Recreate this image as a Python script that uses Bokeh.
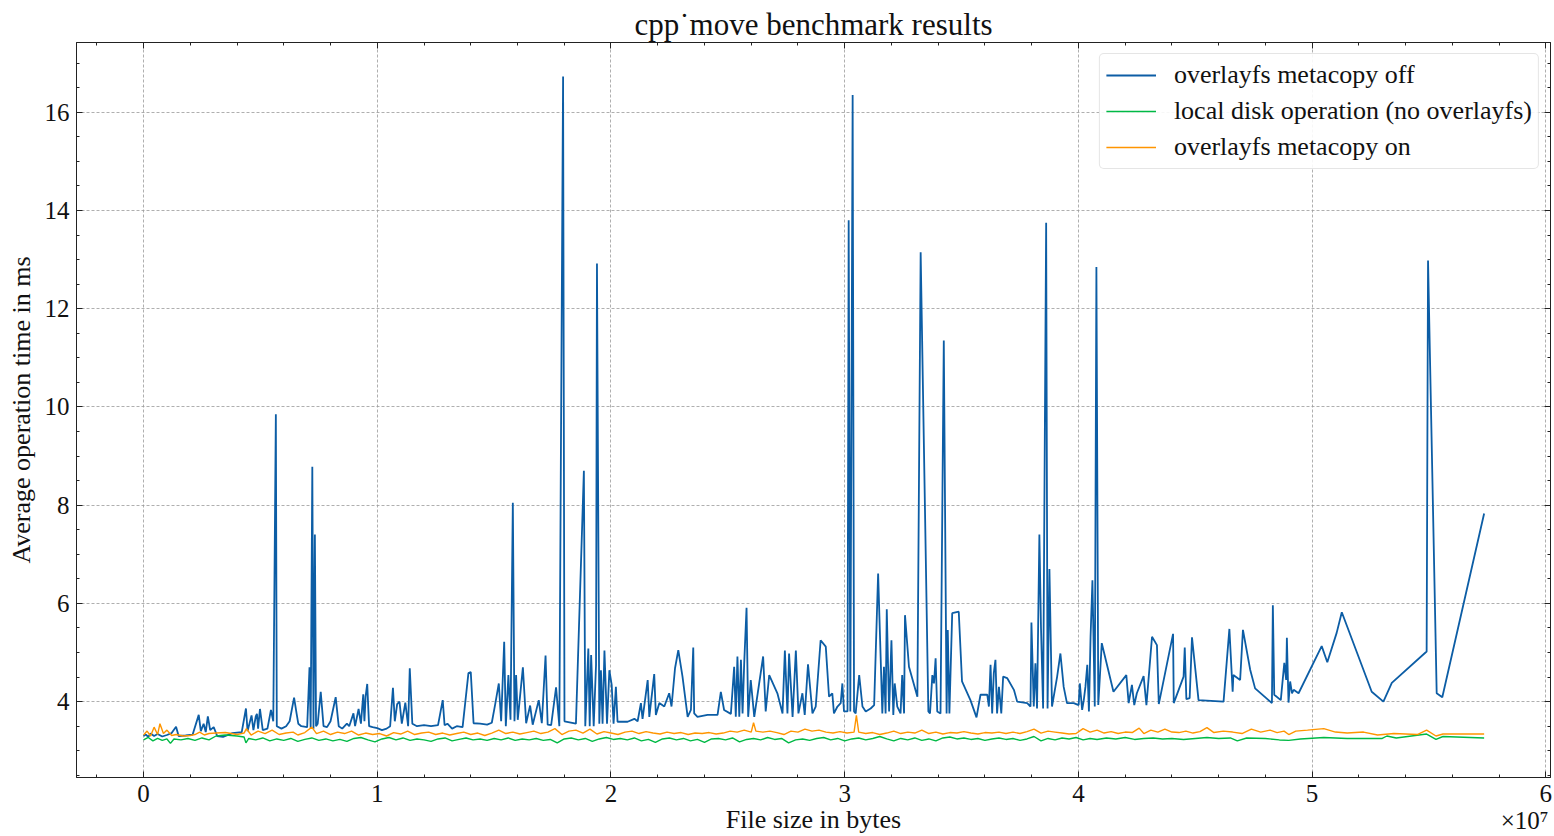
from bokeh.plotting import figure
from bokeh.models import (Range1d, SingleIntervalTicker, LinearAxis, Title, Legend, LegendItem,
                          CustomJSTickFormatter)
from bokeh.embed import file_html
from bokeh.resources import INLINE

# File size in units of 1e7 bytes, average operation time in ms
off_x = [0.000, 0.010, 0.020, 0.030, 0.045, 0.060, 0.080, 0.100, 0.120, 0.139, 0.150, 0.180, 0.210, 0.236, 0.245,
         0.257, 0.266, 0.275, 0.285, 0.300, 0.315, 0.340, 0.380, 0.420, 0.438, 0.445, 0.462, 0.470, 0.480, 0.485,
         0.490, 0.498, 0.510, 0.530, 0.545, 0.555, 0.566, 0.570, 0.590, 0.610, 0.625, 0.644, 0.655, 0.662, 0.675,
         0.700, 0.710, 0.715, 0.722, 0.727, 0.733, 0.738, 0.745, 0.758, 0.770, 0.785, 0.800, 0.822, 0.835, 0.850,
         0.870, 0.880, 0.898, 0.905, 0.920, 0.930, 0.940, 0.945, 0.950, 0.957, 0.965, 0.980, 1.000, 1.020, 1.040,
         1.055, 1.067, 1.075, 1.085, 1.095, 1.105, 1.120, 1.132, 1.139, 1.150, 1.170, 1.200, 1.230, 1.260, 1.280,
         1.288, 1.300, 1.320, 1.340, 1.365, 1.390, 1.400, 1.412, 1.440, 1.470, 1.490, 1.505, 1.520, 1.530, 1.543,
         1.550, 1.561, 1.570, 1.580, 1.587, 1.594, 1.601, 1.623, 1.637, 1.654, 1.665, 1.691, 1.704, 1.720, 1.729,
         1.744, 1.765, 1.779, 1.795, 1.801, 1.850, 1.884, 1.890, 1.903, 1.909, 1.915, 1.926, 1.936, 1.940, 1.950,
         1.957, 1.964, 1.972, 1.983, 1.993, 2.003, 2.011, 2.021, 2.028, 2.071, 2.100, 2.114, 2.128, 2.135, 2.157,
         2.164, 2.178, 2.185, 2.192, 2.207, 2.228, 2.249, 2.259, 2.274, 2.288, 2.306, 2.328, 2.342, 2.352, 2.356,
         2.370, 2.413, 2.456, 2.470, 2.484, 2.513, 2.527, 2.534, 2.541, 2.549, 2.556, 2.563, 2.570, 2.580, 2.587,
         2.598, 2.613, 2.651, 2.662, 2.677, 2.712, 2.734, 2.744, 2.755, 2.762, 2.777, 2.791, 2.802, 2.819, 2.829,
         2.843, 2.862, 2.876, 2.897, 2.919, 2.933, 2.947, 2.954, 2.969, 2.983, 2.990, 2.997, 3.012, 3.017, 3.024,
         3.034, 3.040, 3.047, 3.062, 3.076, 3.090, 3.111, 3.126, 3.143, 3.161, 3.168, 3.175, 3.180, 3.190, 3.200,
         3.208, 3.214, 3.225, 3.239, 3.246, 3.254, 3.258, 3.275, 3.311, 3.325, 3.358, 3.365, 3.375, 3.382, 3.389,
         3.396, 3.410, 3.424, 3.436, 3.441, 3.448, 3.460, 3.488, 3.502, 3.538, 3.564, 3.581, 3.610, 3.617, 3.624,
         3.631, 3.638, 3.645, 3.652, 3.660, 3.670, 3.678, 3.695, 3.724, 3.738, 3.781, 3.795, 3.799, 3.809, 3.816,
         3.823, 3.833, 3.840, 3.849, 3.862, 3.868, 3.876, 3.887, 3.909, 3.923, 3.937, 3.951, 3.980, 4.001, 4.006,
         4.016, 4.023, 4.030, 4.038, 4.045, 4.052, 4.060, 4.070, 4.077, 4.085, 4.100, 4.150, 4.205, 4.215, 4.229,
         4.239, 4.250, 4.279, 4.291, 4.315, 4.336, 4.344, 4.405, 4.408, 4.450, 4.455, 4.462, 4.476, 4.486, 4.514,
         4.621, 4.646, 4.660, 4.663, 4.692, 4.704, 4.735, 4.756, 4.828, 4.832, 4.838, 4.866, 4.881, 4.889, 4.892,
         4.899, 4.906, 4.914, 4.921, 4.942, 5.041, 5.065, 5.105, 5.127, 5.255, 5.305, 5.341, 5.490, 5.496, 5.533,
         5.557, 5.736]
off_y = [3.30, 3.33, 3.28, 3.35, 3.30, 3.34, 3.29, 3.32, 3.36, 3.49, 3.30, 3.31, 3.33, 3.73, 3.40,
         3.55, 3.38, 3.70, 3.42, 3.48, 3.30, 3.28, 3.36, 3.38, 3.86, 3.40, 3.72, 3.42, 3.70, 3.75,
         3.45, 3.85, 3.42, 3.45, 3.83, 3.60, 9.85, 3.50, 3.45, 3.50, 3.60, 4.08, 3.75, 3.55, 3.50,
         3.48, 4.70, 3.45, 8.78, 3.45, 7.40, 3.50, 3.55, 4.20, 3.50, 3.48, 3.60, 4.09, 3.50, 3.45,
         3.55, 3.50, 3.76, 3.50, 3.85, 3.55, 4.15, 3.60, 4.10, 4.36, 3.50, 3.48, 3.46, 3.42, 3.45,
         3.50, 4.28, 3.60, 3.95, 4.00, 3.55, 3.98, 3.50, 4.68, 3.55, 3.50, 3.52, 3.50, 3.52, 4.03,
         3.52, 3.55, 3.45, 3.50, 3.48, 4.58, 4.60, 3.56, 3.55, 3.53, 3.57, 3.96, 4.37, 3.60, 5.22,
         3.50, 4.54, 3.63, 8.05, 3.60, 4.54, 3.63, 4.70, 3.56, 3.92, 3.53, 4.03, 3.56, 4.94, 3.53,
         3.52, 4.29, 3.50, 16.73, 3.60, 3.55, 8.70, 3.50, 5.08, 3.50, 4.95, 3.50, 4.75, 12.92, 3.55,
         4.64, 3.55, 5.04, 3.55, 4.64, 4.34, 3.55, 4.30, 3.59, 3.59, 3.65, 3.60, 3.97, 3.65, 4.44,
         3.69, 4.27, 4.56, 3.73, 3.97, 3.90, 4.17, 3.90, 4.68, 5.05, 4.51, 3.69, 3.83, 5.10, 3.76,
         3.69, 3.73, 3.73, 4.20, 3.83, 3.75, 4.71, 3.69, 4.92, 3.69, 4.85, 3.76, 4.78, 5.91, 3.69,
         4.44, 3.69, 4.92, 3.80, 4.54, 4.17, 3.76, 5.04, 3.76, 4.98, 3.69, 5.04, 3.76, 4.17, 3.73,
         4.76, 3.76, 3.90, 5.25, 5.12, 4.10, 4.17, 3.76, 3.90, 3.97, 4.37, 3.80, 3.80, 13.80, 3.80,
         16.35, 3.80, 3.76, 4.54, 3.90, 3.80, 3.86, 3.93, 6.61, 3.76, 4.71, 3.76, 5.88, 3.80, 5.25,
         3.73, 4.37, 3.90, 3.76, 4.54, 3.76, 5.76, 4.71, 4.10, 13.15, 3.80, 3.76, 4.54, 4.37, 4.88,
         3.80, 3.76, 11.35, 3.76, 5.46, 3.76, 5.80, 5.83, 4.41, 4.03, 3.68, 4.14, 4.14, 3.90, 4.75,
         3.76, 4.58, 4.85, 3.76, 4.30, 3.76, 4.51, 4.48, 4.24, 4.00, 3.97, 3.90, 5.61, 3.90, 4.78,
         3.86, 7.40, 5.49, 3.86, 13.75, 3.86, 6.70, 3.90, 4.51, 4.98, 4.30, 3.97, 3.97, 3.93, 4.37,
         3.83, 4.03, 4.30, 4.75, 3.80, 5.32, 6.47, 3.90, 12.85, 3.93, 5.19, 4.20, 4.54, 3.97, 4.34,
         3.93, 4.17, 4.52, 3.93, 5.32, 5.15, 3.95, 5.38, 3.97, 4.51, 5.10, 4.05, 4.07, 5.31, 4.03,
         4.00, 5.48, 4.20, 4.54, 4.44, 5.46, 4.65, 4.27, 3.97, 5.96, 4.14, 4.03, 4.79, 4.44, 5.30,
         3.98, 4.41, 4.17, 4.24, 4.17, 5.13, 4.80, 5.40, 5.82, 4.20, 4.00, 4.38, 5.02, 12.98, 4.17,
         4.09, 7.83]

local_x = [0.00, 0.02, 0.04, 0.06, 0.08, 0.10, 0.115, 0.13, 0.16, 0.19, 0.22, 0.25, 0.28, 0.31, 0.35, 0.40, 0.43,
           0.438, 0.45, 0.48, 0.51, 0.54, 0.57, 0.60, 0.63, 0.66, 0.69, 0.72, 0.75, 0.78, 0.81, 0.84, 0.87, 0.90,
           0.93, 0.96, 0.99, 1.02, 1.05, 1.08, 1.11, 1.14, 1.17, 1.20, 1.23, 1.26, 1.29, 1.32, 1.35, 1.38, 1.41,
           1.44, 1.47, 1.50, 1.53, 1.56, 1.59, 1.62, 1.65, 1.68, 1.71, 1.74, 1.77, 1.80, 1.83, 1.86, 1.89, 1.92,
           1.95, 1.98, 2.01, 2.04, 2.07, 2.10, 2.13, 2.16, 2.19, 2.22, 2.25, 2.28, 2.31, 2.34, 2.37, 2.40, 2.43,
           2.46, 2.49, 2.52, 2.55, 2.58, 2.61, 2.64, 2.67, 2.70, 2.73, 2.76, 2.79, 2.82, 2.85, 2.88, 2.91, 2.94,
           2.97, 3.00, 3.03, 3.06, 3.09, 3.12, 3.15, 3.18, 3.21, 3.24, 3.27, 3.30, 3.33, 3.36, 3.39, 3.42, 3.45,
           3.48, 3.51, 3.54, 3.57, 3.60, 3.63, 3.66, 3.69, 3.72, 3.75, 3.78, 3.81, 3.84, 3.87, 3.90, 3.93, 3.96,
           3.99, 4.02, 4.05, 4.08, 4.12, 4.16, 4.20, 4.24, 4.28, 4.32, 4.36, 4.40, 4.45, 4.50, 4.55, 4.60, 4.65,
           4.68, 4.72, 4.80, 4.86, 4.90, 4.95, 5.05, 5.15, 5.25, 5.30, 5.32, 5.36, 5.49, 5.53, 5.56, 5.736]
local_y = [3.22, 3.27, 3.20, 3.25, 3.21, 3.24, 3.15, 3.24, 3.22, 3.25, 3.21, 3.26, 3.22, 3.30, 3.32, 3.30, 3.28,
           3.16, 3.25, 3.22, 3.26, 3.20, 3.24, 3.21, 3.25, 3.19, 3.23, 3.26, 3.21, 3.24, 3.20, 3.23, 3.19, 3.25,
           3.27, 3.22, 3.18, 3.24, 3.27, 3.22, 3.26, 3.21, 3.24, 3.22, 3.19, 3.24, 3.26, 3.20, 3.23, 3.26, 3.22,
           3.24, 3.21, 3.25, 3.22, 3.26, 3.21, 3.24, 3.22, 3.25, 3.21, 3.23, 3.16, 3.24, 3.26, 3.22, 3.25, 3.19,
           3.24, 3.27, 3.23, 3.25, 3.22, 3.26, 3.20, 3.23, 3.17, 3.24, 3.26, 3.22, 3.25, 3.20, 3.23, 3.17, 3.24,
           3.25, 3.22, 3.26, 3.18, 3.23, 3.25, 3.22, 3.27, 3.23, 3.25, 3.16, 3.22, 3.24, 3.21, 3.25, 3.27, 3.22,
           3.25, 3.20, 3.24, 3.26, 3.22, 3.25, 3.29, 3.24, 3.20, 3.25, 3.22, 3.26, 3.21, 3.24, 3.20, 3.26, 3.28,
           3.24, 3.26, 3.23, 3.25, 3.21, 3.24, 3.26, 3.23, 3.25, 3.21, 3.24, 3.29, 3.20, 3.25, 3.22, 3.26, 3.24,
           3.27, 3.22, 3.25, 3.23, 3.26, 3.24, 3.27, 3.23, 3.25, 3.26, 3.24, 3.25, 3.23, 3.25, 3.27, 3.25, 3.26,
           3.20, 3.26, 3.25, 3.22, 3.21, 3.24, 3.27, 3.25, 3.25, 3.25, 3.30, 3.26, 3.34, 3.23, 3.29, 3.26]

on_x = [0.00, 0.015, 0.03, 0.045, 0.06, 0.07, 0.085, 0.10, 0.12, 0.14, 0.17, 0.20, 0.22, 0.24, 0.26, 0.28, 0.31,
        0.35, 0.40, 0.43, 0.44, 0.46, 0.49, 0.52, 0.55, 0.58, 0.61, 0.64, 0.66, 0.69, 0.72, 0.74, 0.77, 0.80,
        0.83, 0.86, 0.89, 0.92, 0.95, 0.98, 1.01, 1.04, 1.07, 1.10, 1.13, 1.16, 1.19, 1.22, 1.25, 1.28, 1.31,
        1.34, 1.37, 1.40, 1.43, 1.46, 1.49, 1.52, 1.55, 1.58, 1.61, 1.64, 1.67, 1.70, 1.73, 1.76, 1.79, 1.82,
        1.85, 1.88, 1.91, 1.94, 1.97, 2.00, 2.03, 2.06, 2.09, 2.12, 2.15, 2.18, 2.21, 2.24, 2.27, 2.30, 2.33,
        2.36, 2.39, 2.42, 2.45, 2.48, 2.51, 2.54, 2.57, 2.60, 2.61, 2.62, 2.65, 2.68, 2.71, 2.74, 2.77, 2.80,
        2.83, 2.86, 2.89, 2.92, 2.95, 2.98, 3.01, 3.04, 3.05, 3.06, 3.09, 3.12, 3.15, 3.18, 3.21, 3.24, 3.27,
        3.30, 3.33, 3.36, 3.39, 3.42, 3.45, 3.48, 3.51, 3.54, 3.57, 3.60, 3.63, 3.66, 3.69, 3.72, 3.75, 3.78,
        3.81, 3.84, 3.87, 3.90, 3.93, 3.96, 3.99, 4.02, 4.05, 4.08, 4.11, 4.14, 4.17, 4.20, 4.23, 4.26, 4.28,
        4.31, 4.34, 4.37, 4.40, 4.43, 4.46, 4.49, 4.52, 4.55, 4.58, 4.62, 4.66, 4.70, 4.74, 4.78, 4.82, 4.85,
        4.88, 4.90, 4.93, 4.98, 5.05, 5.10, 5.15, 5.22, 5.28, 5.35, 5.45, 5.49, 5.53, 5.56, 5.736]
on_y = [3.32, 3.40, 3.30, 3.48, 3.33, 3.55, 3.35, 3.42, 3.31, 3.33, 3.30, 3.31, 3.33, 3.38, 3.32, 3.35, 3.36,
        3.37, 3.33, 3.36, 3.45, 3.32, 3.40, 3.35, 3.42, 3.33, 3.36, 3.38, 3.32, 3.37, 3.48, 3.35, 3.40, 3.33,
        3.38, 3.35, 3.40, 3.32, 3.36, 3.33, 3.35, 3.30, 3.37, 3.34, 3.40, 3.33, 3.36, 3.38, 3.33, 3.36, 3.32,
        3.35, 3.38, 3.33, 3.36, 3.31, 3.36, 3.42, 3.35, 3.38, 3.34, 3.37, 3.40, 3.35, 3.38, 3.45, 3.33, 3.40,
        3.42, 3.36, 3.44, 3.34, 3.39, 3.36, 3.33, 3.38, 3.40, 3.35, 3.39, 3.36, 3.34, 3.38, 3.35, 3.37, 3.33,
        3.36, 3.35, 3.37, 3.34, 3.36, 3.40, 3.38, 3.42, 3.38, 3.57, 3.40, 3.38, 3.40, 3.37, 3.33, 3.40, 3.38,
        3.44, 3.40, 3.42, 3.38, 3.36, 3.39, 3.36, 3.38, 3.72, 3.38, 3.35, 3.37, 3.33, 3.36, 3.40, 3.35, 3.38,
        3.36, 3.42, 3.35, 3.38, 3.34, 3.37, 3.36, 3.39, 3.36, 3.34, 3.37, 3.36, 3.38, 3.35, 3.38, 3.35, 3.39,
        3.44, 3.36, 3.40, 3.38, 3.36, 3.34, 3.35, 3.45, 3.38, 3.42, 3.36, 3.39, 3.35, 3.38, 3.37, 3.46, 3.35,
        3.42, 3.38, 3.44, 3.38, 3.37, 3.40, 3.36, 3.39, 3.47, 3.37, 3.40, 3.38, 3.35, 3.44, 3.38, 3.42, 3.37,
        3.40, 3.33, 3.40, 3.42, 3.45, 3.38, 3.36, 3.38, 3.32, 3.35, 3.33, 3.42, 3.30, 3.34, 3.34]

x_ticks_interval = 1
y_ticks_interval = 2
series_names = ["overlayfs metacopy off", "local disk operation (no overlayfs)", "overlayfs metacopy on"]
colors = ["#0C5DA5", "#00B945", "#FF9500"]
offset_text = "\u00d710\u2077"

FONT = "Liberation Serif"
AXC = "#222222"

p = figure(width=1554, height=836, output_backend="svg", toolbar_location=None,
           x_range=Range1d(-0.287, 6.02), y_range=Range1d(2.455, 17.42),
           min_border_left=76, min_border_right=4, min_border_top=42, min_border_bottom=58)
p.background_fill_color = "white"
p.border_fill_color = "white"
p.outline_line_color = AXC
p.outline_line_width = 1

p.title.text = "cpp\u02d9move benchmark results"
p.title.align = "center"
p.title.text_font = FONT
p.title.text_font_size = "31px"
p.title.text_font_style = "normal"
p.title.text_color = "#111111"
p.title.standoff = 2

xt = SingleIntervalTicker(interval=x_ticks_interval, num_minor_ticks=5)
yt = SingleIntervalTicker(interval=y_ticks_interval, num_minor_ticks=4)

def style_axis(ax, labels=True):
    ax.axis_line_color = AXC
    ax.axis_line_width = 1
    ax.major_tick_in = 6
    ax.major_tick_out = 0
    ax.minor_tick_in = 3
    ax.minor_tick_out = 0
    ax.major_tick_line_color = AXC
    ax.minor_tick_line_color = AXC
    ax.major_label_text_font = FONT
    ax.major_label_text_font_size = "25px"
    ax.major_label_text_color = "#111111"
    ax.major_label_standoff = 7 if labels else 0
    ax.axis_label_text_font = FONT
    ax.axis_label_text_font_size = "26px"
    ax.axis_label_text_font_style = "normal"
    ax.axis_label_text_color = "#111111"
    if not labels:
        ax.formatter = CustomJSTickFormatter(code="return ''")

p.xaxis[0].ticker = xt
p.yaxis[0].ticker = yt
style_axis(p.xaxis[0])
style_axis(p.yaxis[0])
p.xaxis[0].axis_label = "File size in bytes"
p.yaxis[0].axis_label = "Average operation time in ms"
p.xaxis[0].axis_label_standoff = 0
p.yaxis[0].axis_label_standoff = 6

top = LinearAxis(ticker=SingleIntervalTicker(interval=x_ticks_interval, num_minor_ticks=5))
right = LinearAxis(ticker=SingleIntervalTicker(interval=y_ticks_interval, num_minor_ticks=4))
style_axis(top, labels=False)
style_axis(right, labels=False)
p.add_layout(top, "above")
p.add_layout(right, "right")

p.xgrid.ticker = xt
p.ygrid.ticker = yt
for g in (p.xgrid[0], p.ygrid[0]):
    g.grid_line_color = "#9a9a9a"
    g.grid_line_dash = "3 2"
    g.grid_line_width = 0.8

r_off = p.line(off_x, off_y, line_color=colors[0], line_width=1.8)
r_loc = p.line(local_x, local_y, line_color=colors[1], line_width=1.4)
r_on = p.line(on_x, on_y, line_color=colors[2], line_width=1.4)

legend = Legend(items=[LegendItem(label=series_names[0], renderers=[r_off]),
                       LegendItem(label=series_names[1], renderers=[r_loc]),
                       LegendItem(label=series_names[2], renderers=[r_on])],
                location="top_right")
legend.margin = 11
legend.padding = 6
legend.spacing = 6
legend.label_height = 28
legend.glyph_width = 50
legend.glyph_height = 28
legend.label_standoff = 18
legend.label_text_font = FONT
legend.label_text_font_size = "26px"
legend.label_text_color = "#111111"
legend.border_line_color = "#cccccc"
legend.border_line_width = 1
legend.border_radius = 5
legend.background_fill_alpha = 0.9
p.add_layout(legend)

# the scale factor of the x axis, drawn below the axis at its right end
p.add_layout(Title(text=offset_text, align="right", vertical_align="top", standoff=-60, offset=2,
                   text_font=FONT, text_font_size="25px", text_font_style="normal",
                   text_color="#111111"), "below")

open("out.html", "w").write(file_html(p, INLINE))
